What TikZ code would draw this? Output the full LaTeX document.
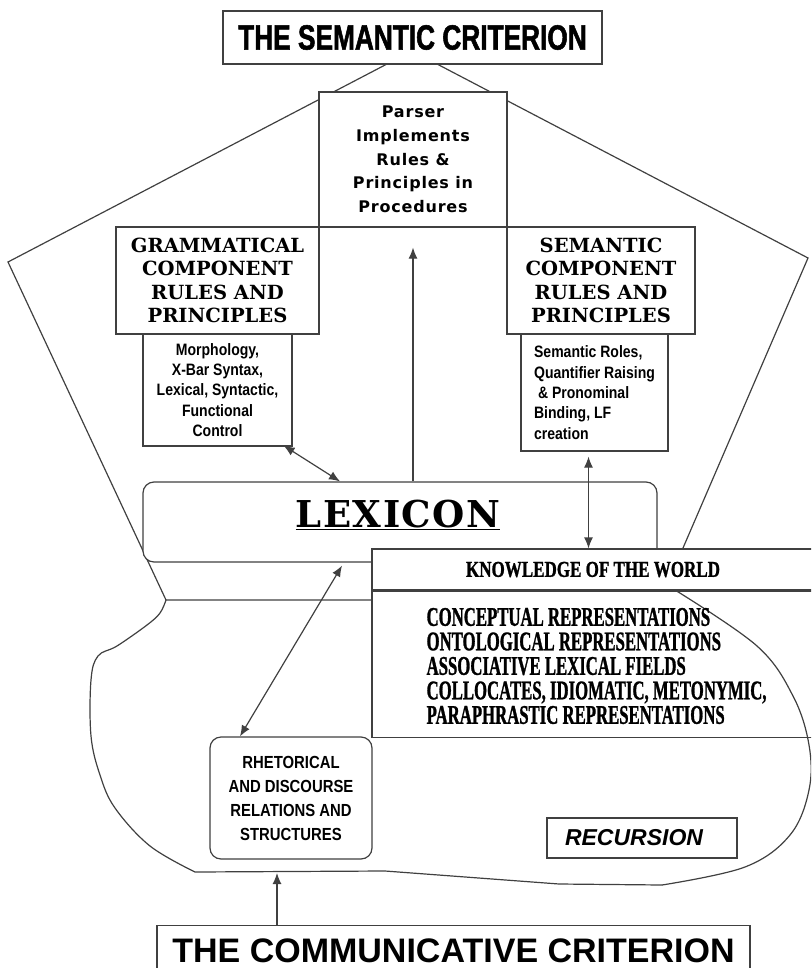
\documentclass[tikz,border=0pt]{standalone}
\usepackage{fontspec}
\usetikzlibrary{arrows.meta,positioning}
\setmainfont{Liberation Serif}
\newfontfamily\headfont[FakeStretch=0.75, FakeBold=1.5]{Liberation Sans}
\newfontfamily\parsefont[LetterSpace=5]{DejaVu Sans}
\newfontfamily\compfont{DejaVu Serif}
\newfontfamily\lexfont[LetterSpace=4]{DejaVu Serif}
\newfontfamily\narrowfont[FakeStretch=0.85]{Liberation Sans}
\newfontfamily\kwfont[FakeStretch=0.62, FakeBold=1]{Liberation Serif}
\newfontfamily\kwheadfont[FakeStretch=0.75, FakeBold=1]{Liberation Serif}
\newfontfamily\plainsans{Liberation Sans}
\newcommand{\fsz}[2]{\fontsize{#1}{#2}\selectfont}

\begin{document}
\begin{tikzpicture}[x=1pt, y=-1pt, line width=1.2pt, black!75,
    box/.style = {draw, fill=white, text=black, inner sep=0pt, align=center},
    rbox/.style = {box, rounded corners=11pt},
    parsetext/.style = {font=\parsefont\bfseries\fsz{16}{23.7}},
    comptext/.style = {font=\compfont\bfseries\fsz{19.5}{23.3}},
    narrowtext/.style = {font=\narrowfont\bfseries\fsz{16.5}{20.3}},
    sgl/.style = {-{Latex[length=11pt,width=9pt]}},
    dbl/.style = {{Latex[length=11pt,width=9pt]}-{Latex[length=11pt,width=9pt]}}]
    \useasboundingbox (0,0) rectangle (811,968);
    \clip (0,0) rectangle (811,968);

    % pentagon
    \coordinate (pl) at (8,262);
    \coordinate (pr) at (808,258);
    \coordinate (pbl) at (166,600);
    \coordinate (pbr) at (683,548);
    \draw (387,64) -- (pl) -- (pbl) -- (372,600);
    \draw (437,64) -- (pr) -- (pbr);

    \node[box, minimum width=379, minimum height=53, font=\headfont\bfseries\fsz{35}{40}]
        (sem) at (412.5,37.5) {THE SEMANTIC CRITERION};
    \node[box, parsetext, minimum width=188, minimum height=135] (parser) at (413,159.5)
        {Parser\\Implements\\Rules \&\\Principles in\\Procedures};
    \node[box, comptext, minimum width=203, minimum height=107] (gram) at (217.5,280.5)
        {GRAMMATICAL\\COMPONENT\\RULES AND\\PRINCIPLES};
    \node[box, comptext, minimum width=188, minimum height=107] (semcomp) at (601,280.5)
        {SEMANTIC\\COMPONENT\\RULES AND\\PRINCIPLES};
    \node[box, narrowtext, minimum width=149, minimum height=112] (morph) at (217.5,390)
        {Morphology,\\X-Bar Syntax,\\Lexical, Syntactic,\\Functional\\Control};
    \node[box, narrowtext, align=left, minimum width=147, minimum height=117] (roles) at (594.5,392.5)
        {Semantic Roles,\\Quantifier Raising\\\ \& Pronominal\\Binding, LF\\creation};

    \node[rbox, minimum width=514, minimum height=80] (lex) at (400,522) {};
    \node[text=black, inner sep=0pt, font=\lexfont\bfseries\fsz{37}{40}] (lexword) at (398,515)
        {\underline{LEXICON}};

    \node[box, minimum width=442, minimum height=41, font=\kwheadfont\bfseries\fsz{22.7}{25}]
        (kwhead) at (593,569.5) {KNOWLEDGE OF THE WORLD};
    \node[box, minimum width=442, minimum height=146, below=0pt of kwhead] (kwbody) {};

    % blob
    \draw plot[smooth, tension=0.6] coordinates {(166,600) (160,613) (147,625) (117,646)
        (98,656) (91,680) (91,736) (100,775) (115,808) (150,846) (195,872)}
        -- (385,871) -- (559,884) -- (662,885);
    \draw plot[smooth, tension=0.6] coordinates {(662,885) (745,867) (790,835) (809,790)
        (809,745) (793,696) (757,646) (675,590)};

    \node[anchor=west, inner sep=0pt, align=left, text=black, font=\kwfont\bfseries\fsz{27}{24.5}]
        (kwlist) at (426,666)
        {CONCEPTUAL REPRESENTATIONS\\ONTOLOGICAL REPRESENTATIONS\\
         ASSOCIATIVE LEXICAL FIELDS\\COLLOCATES, IDIOMATIC, METONYMIC,\\PARAPHRASTIC REPRESENTATIONS};

    \node[rbox, minimum width=162, minimum height=122, font=\narrowfont\bfseries\fsz{17.5}{24}]
        (rhet) at (291,798) {RHETORICAL\\AND DISCOURSE\\RELATIONS AND\\STRUCTURES};
    \node[box, minimum width=190, minimum height=40, font=\plainsans\bfseries\itshape\fsz{23}{26}]
        (recur) at (642,838) {RECURSION\hspace{16pt}};
    \node[box, minimum width=593, minimum height=50, anchor=north, font=\plainsans\bfseries\fsz{34}{38}]
        (comm) at (453.5,925) {THE COMMUNICATIVE CRITERION};

    % arrows
    \coordinate (rs) at ([xshift=-6,yshift=-5]roles.south);
    \coordinate (blobb) at (277,873);
    \draw[dbl] ([xshift=-9,yshift=1]morph.south east) -- ([xshift=-60]lex.north);
    \draw[sgl] (parser.south |- lex.north) -- ([yshift=-20]parser.south);
    \draw[dbl] (rs) -- (rs |- kwhead.north);
    \draw[dbl] ([xshift=-58,yshift=-3]lex.south) -- ([xshift=-51]rhet.north);
    \draw[sgl] (blobb |- comm.north) -- (blobb);
\end{tikzpicture}
\end{document}
